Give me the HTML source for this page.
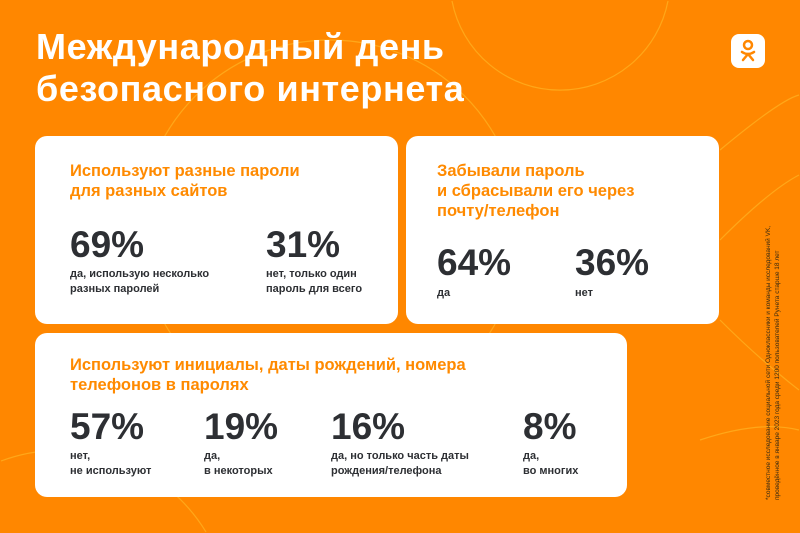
<!DOCTYPE html>
<html><head><meta charset="utf-8"><style>
html,body{margin:0;padding:0;width:800px;height:533px;overflow:hidden}
#w{position:absolute;left:0;top:0;width:800px;height:533px;overflow:hidden;background:#ff8700;font-family:"Liberation Sans",sans-serif}
.t{position:absolute;left:36px;top:26px;color:#fff;font-weight:bold;font-size:36px;line-height:42px;letter-spacing:0.6px}
.card{position:absolute;background:#fff;border-radius:12px}
.h{position:absolute;color:#ff8a00;font-weight:bold;font-size:16.5px;line-height:20px}
.n{position:absolute;color:#2d2f33;font-weight:bold;font-size:37px;line-height:40px}
.l{position:absolute;color:#2d2f33;font-weight:bold;font-size:11px;line-height:15px}
.ok{position:absolute;left:731px;top:34px;width:34px;height:34px;background:#fff;border-radius:8px}
.fn{position:absolute;left:764px;top:500px;width:300px;transform-origin:0 0;transform:rotate(-90deg);color:#3a2a10;font-size:6.5px;line-height:9px;white-space:nowrap}
</style></head><body><div id="w">
<svg style="position:absolute;left:0;top:0" width="800" height="533" fill="none" stroke="#ffb020" stroke-width="1.2" opacity="0.8">
<path d="M452 1 A110 110 0 0 0 668 1"/><circle cx="330" cy="230" r="190"/><path d="M1 461 A170 170 0 0 1 206 532"/>
<path d="M720 150 Q780 100 799 95"/><path d="M720 240 Q770 190 799 175"/><path d="M720 320 Q760 360 799 390"/><path d="M700 440 Q760 420 799 430"/>
</svg>
<div class="t">Международный день<br>безопасного интернета</div>
<div class="ok"><svg width="34" height="34"><circle cx="17" cy="11" r="4" fill="none" stroke="#ff8700" stroke-width="2.5"/><path d="M11 18 Q17 22 23 18 M17 20 L12 26 M17 20 L22 26" stroke="#ff8700" stroke-width="2.5" fill="none" stroke-linecap="round"/></svg></div>
<div class="card" style="left:35px;top:136px;width:363px;height:188px"></div>
<div class="card" style="left:406px;top:136px;width:313px;height:188px"></div>
<div class="card" style="left:35px;top:333px;width:592px;height:164px"></div>
<div class="h" style="left:70px;top:161px">Используют разные пароли<br>для разных сайтов</div>
<div class="n" style="left:70px;top:225px">69%</div>
<div class="l" style="left:70px;top:267px">да, использую несколько<br>разных паролей</div>
<div class="n" style="left:266px;top:225px">31%</div>
<div class="l" style="left:266px;top:267px">нет, только один<br>пароль для всего</div>
<div class="h" style="left:437px;top:161px">Забывали пароль<br>и сбрасывали его через<br>почту/телефон</div>
<div class="n" style="left:437px;top:243px">64%</div>
<div class="l" style="left:437px;top:286px">да</div>
<div class="n" style="left:575px;top:243px">36%</div>
<div class="l" style="left:575px;top:286px">нет</div>
<div class="h" style="left:70px;top:355px">Используют инициалы, даты рождений, номера<br>телефонов в паролях</div>
<div class="n" style="left:70px;top:407px">57%</div>
<div class="l" style="left:70px;top:449px">нет,<br>не используют</div>
<div class="n" style="left:204px;top:407px">19%</div>
<div class="l" style="left:204px;top:449px">да,<br>в некоторых</div>
<div class="n" style="left:331px;top:407px">16%</div>
<div class="l" style="left:331px;top:449px">да, но только часть даты<br>рождения/телефона</div>
<div class="n" style="left:523px;top:407px">8%</div>
<div class="l" style="left:523px;top:449px">да,<br>во многих</div>
<div class="fn">*совместное исследование социальной сети Одноклассники и команды исследований VK,<br>проведённое в январе 2023 года среди 1200 пользователей Рунета старше 18 лет</div>
</div></body></html>
